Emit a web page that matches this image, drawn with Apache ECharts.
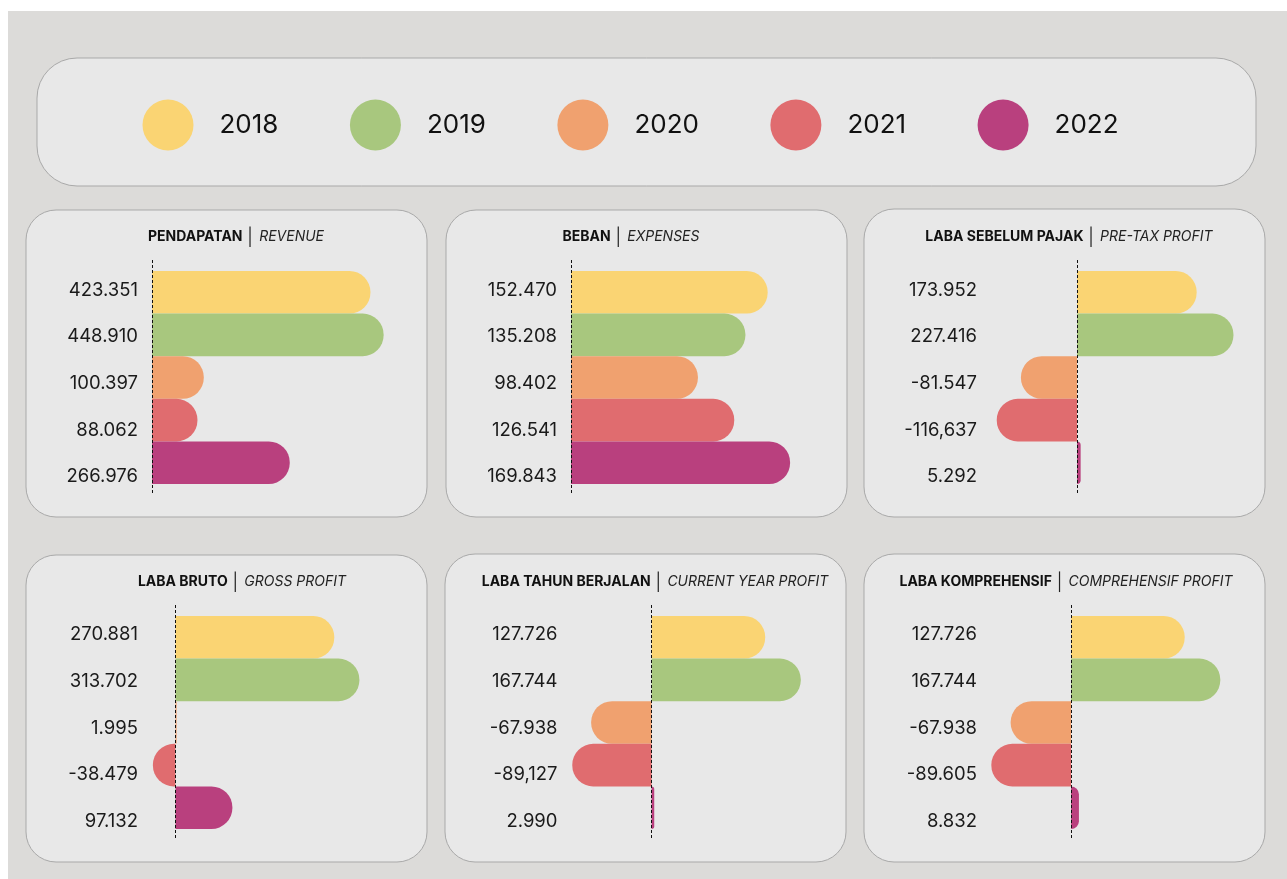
<!DOCTYPE html>
<html>
<head>
<meta charset="utf-8">
<script src="https://cdn.jsdelivr.net/npm/echarts@6/dist/echarts.min.js"></script>
<style>
  html, body { margin: 0; padding: 0; background: #ffffff; }
  #chart { width: 1287px; height: 879px; }
</style>
</head>
<body>
<div id="chart"></div>
<script>
// ---------- DATA ----------
const years = ['2018', '2019', '2020', '2021', '2022'];

const revenue = [423.351, 448.910, 100.397, 88.062, 266.976];
const revenueLabels = ['423.351', '448.910', '100.397', '88.062', '266.976'];

const expenses = [152.470, 135.208, 98.402, 126.541, 169.843];
const expensesLabels = ['152.470', '135.208', '98.402', '126.541', '169.843'];

const preTaxProfit = [173.952, 227.416, -81.547, -116.637, 5.292];
const preTaxProfitLabels = ['173.952', '227.416', '-81.547', '-116,637', '5.292'];

const grossProfit = [270.881, 313.702, 1.995, -38.479, 97.132];
const grossProfitLabels = ['270.881', '313.702', '1.995', '-38.479', '97.132'];

const currentYearProfit = [127.726, 167.744, -67.938, -89.127, 2.990];
const currentYearProfitLabels = ['127.726', '167.744', '-67.938', '-89,127', '2.990'];

const comprehensiveProfit = [127.726, 167.744, -67.938, -89.605, 8.832];
const comprehensiveProfitLabels = ['127.726', '167.744', '-67.938', '-89.605', '8.832'];

const titlesBold = ['PENDAPATAN', 'BEBAN', 'LABA SEBELUM PAJAK', 'LABA BRUTO', 'LABA TAHUN BERJALAN', 'LABA KOMPREHENSIF'];
const titlesItalic = ['REVENUE', 'EXPENSES', 'PRE-TAX PROFIT', 'GROSS PROFIT', 'CURRENT YEAR PROFIT', 'COMPREHENSIF PROFIT'];

const panelValues = [revenue, expenses, preTaxProfit, grossProfit, currentYearProfit, comprehensiveProfit];
const panelLabels = [revenueLabels, expensesLabels, preTaxProfitLabels, grossProfitLabels, currentYearProfitLabels, comprehensiveProfitLabels];

// axis ranges (value axis) per panel
const axisMin = [0, 0, -125, -40, -90, -90];
const axisMax = [500, 200, 250, 400, 200, 200];

// ---------- STYLE / LAYOUT ----------
const colors = ['#fad473', '#a8c77e', '#f0a16f', '#e06c6f', '#b9407e'];
const FONT = 'Inter, "Noto Sans", sans-serif';

const panelBoxes = [
  { x: 26,  y: 210, w: 401, h: 307 },
  { x: 446, y: 210, w: 401, h: 307 },
  { x: 864, y: 209, w: 401, h: 308 },
  { x: 26,  y: 555, w: 401, h: 307 },
  { x: 445, y: 554, w: 401, h: 308 },
  { x: 864, y: 554, w: 401, h: 308 }
];
const titleCenters = [236, 631, 1069, 242, 655, 1066];
const gridLefts = [152, 571, 991, 152, 571.5, 991];
const rowGridTop = [271, 271, 271, 616, 616, 616];
const labelGridTop = [266.7, 266.7, 266.7, 611.2, 611.2, 611.2];
const GRID_W = 258, GRID_H = 213, LABEL_GRID_H = 233.5;
const BAR_R = 21;

const chart = echarts.init(document.getElementById('chart'), null, { renderer: 'canvas' });

const graphics = [
  { type: 'rect', z: -10, shape: { x: 8, y: 11, width: 1279, height: 868 }, style: { fill: '#dcdbd9' } },
  { type: 'rect', z: -9, shape: { x: 37, y: 58, width: 1219, height: 128, r: 40 },
    style: { fill: '#e8e8e8', stroke: '#a9a9a9', lineWidth: 1 } }
];
panelBoxes.forEach(b => {
  graphics.push({ type: 'rect', z: -9, shape: { x: b.x, y: b.y, width: b.w, height: b.h, r: 30 },
    style: { fill: '#e8e8e8', stroke: '#a9a9a9', lineWidth: 1 } });
});

const grids = [], xAxes = [], yAxes = [], titles = [], series = [];
for (let p = 0; p < 6; p++) {
  const top = rowGridTop[p];
  const labels = panelLabels[p];
  const gBar = grids.length;
  // bar grid
  grids.push({ left: gridLefts[p], top: top, width: GRID_W, height: GRID_H, containLabel: false });
  xAxes.push({ type: 'value', gridIndex: gBar, min: axisMin[p], max: axisMax[p], show: false, splitLine: { show: false } });
  yAxes.push({
    type: 'category', gridIndex: gBar, data: years, inverse: true,
    axisLine: { show: false }, axisTick: { show: false }, splitLine: { show: false },
    axisLabel: { show: false }
  });
  // label grid (value labels column)
  const gLab = grids.length;
  grids.push({ left: gridLefts[p], top: labelGridTop[p], width: GRID_W, height: LABEL_GRID_H, containLabel: false });
  xAxes.push({ type: 'value', gridIndex: gLab, min: 0, max: 1, show: false, splitLine: { show: false } });
  yAxes.push({
    type: 'category', gridIndex: gLab, data: years, inverse: true,
    axisLine: { show: false }, axisTick: { show: false }, splitLine: { show: false },
    axisLabel: { margin: 14, fontSize: 18.5, color: '#1a1a1a', fontFamily: FONT,
      formatter: (v, i) => labels[i] }
  });

  titles.push({
    text: '{b|' + titlesBold[p] + '}{s|│}{i|' + titlesItalic[p] + '}',
    left: titleCenters[p], top: top - 43, textAlign: 'center', padding: 0,
    textStyle: {
      rich: {
        b: { fontFamily: FONT, fontWeight: 'bold', fontSize: 14, color: '#111' },
        s: { fontFamily: FONT, fontWeight: 'normal', fontSize: 17, color: '#222', padding: [0, 3, 0, 3] },
        i: { fontFamily: FONT, fontStyle: 'italic', fontWeight: 'normal', fontSize: 14, color: '#222' }
      }
    }
  });
  for (let j = 0; j < years.length; j++) {
    const v = panelValues[p][j];
    const s = {
      type: 'bar', name: years[j], xAxisIndex: gBar, yAxisIndex: gBar, stack: 'panel' + p,
      barCategoryGap: '0%',
      itemStyle: { color: colors[j] },
      data: [{ value: [v, years[j]], itemStyle: { borderRadius: v >= 0 ? [0, BAR_R, BAR_R, 0] : [BAR_R, 0, 0, BAR_R] } }]
    };
    if (j === 0) {
      s.markLine = {
        silent: true, symbol: 'none', label: { show: false },
        lineStyle: { color: '#111', width: 1, type: [3, 2] },
        data: [[{ xAxis: 0, y: top - 11 }, { xAxis: 0, y: top + GRID_H + 9 }]]
      };
    }
    series.push(s);
  }
}

chart.setOption({
  animation: false,
  textStyle: { fontFamily: FONT },
  graphic: graphics,
  title: titles,
  legend: {
    data: years, left: 142.5, top: 99.5, padding: 0, icon: 'circle',
    itemWidth: 51, itemHeight: 51, itemGap: 71.5,
    textStyle: { fontSize: 26, color: '#111', fontFamily: FONT, width: 66, overflow: 'none', padding: [0, 0, 0, 21] }
  },
  grid: grids, xAxis: xAxes, yAxis: yAxes, series: series
});
</script>
</body>
</html>
